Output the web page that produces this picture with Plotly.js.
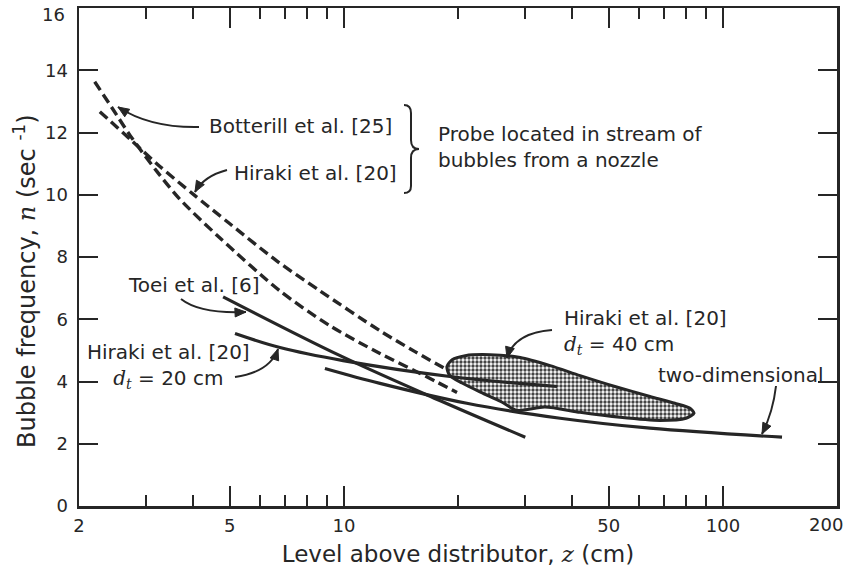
<!DOCTYPE html>
<html>
<head>
<meta charset="utf-8">
<script src="https://cdn.plot.ly/plotly-3.0.1.min.js"></script>
<style>html,body{margin:0;padding:0;background:#fff;}</style>
</head>
<body>
<div id="chart" style="width:846px;height:571px;"></div>
<script>
// ---- Data (z in cm, n in 1/s) ----
const botterillZ = [2.20, 2.46, 2.73, 3.21, 3.69, 4.71, 6.78, 9.19, 12.45, 15.88, 19.88];
const botterillN = [13.63, 12.74, 11.90, 10.75, 9.86, 8.61, 6.91, 5.79, 4.90, 4.26, 3.65];

const hirakiNozzleZ = [2.27, 2.73, 3.27, 4.00, 5.01, 6.66, 8.65, 12.45, 15.40, 18.70];
const hirakiNozzleN = [12.67, 11.78, 10.91, 10.02, 9.06, 7.87, 6.91, 5.63, 4.96, 4.38];

const toeiZ = [4.80, 9.77, 17.9, 30.1];
const toeiN = [6.72, 4.83, 3.39, 2.21];

const hiraki20Z = [5.16, 6.78, 9.95, 19.05, 36.5];
const hiraki20N = [5.54, 5.09, 4.67, 4.16, 3.84];

const twoDimZ = [8.91, 12.45, 21.1, 37.2, 64.2, 143.2];
const twoDimN = [4.42, 3.94, 3.30, 2.82, 2.50, 2.21];

const hiraki40Z = [18.7, 19.3, 20.9, 24.3, 29.2, 35.0, 42.0, 51.9, 64.2, 74.7, 81.9, 83.9, 79.9, 68.2, 53.5, 42.0, 33.9, 28.6, 26.0, 23.0, 20.5, 19.0, 18.7];
const hiraki40N = [4.48, 4.70, 4.83, 4.86, 4.77, 4.51, 4.19, 3.84, 3.52, 3.30, 3.14, 2.98, 2.82, 2.75, 2.85, 3.01, 3.18, 3.07, 3.35, 3.65, 3.95, 4.20, 4.48];

const xTickVals = [2, 5, 10, 50, 100, 200];
const xTickText = ['2', '5', '10', '50', '100', '200'];
const xMinorVals = [3, 4, 6, 7, 8, 9, 20, 30, 40, 60, 70, 80, 90];
const yTickVals = [0, 2, 4, 6, 8, 10, 12, 14, 16];
const yTickText = ['0', '2', '4', '6', '8', '10', '12', '14', '16'];

// ---- Styling / layout helpers ----
const INK = '#262626';
const FONT = 'DejaVu Sans, Arial, sans-serif';
const L = 79, R = 837, T = 8, B = 506;
function P(px, py) { return [(px - L) / (R - L), (B - py) / (B - T)]; }
function fmt(p) { return p[0].toFixed(5) + ',' + p[1].toFixed(5); }
function curve(a, c, b) { return 'M ' + fmt(P(a[0], a[1])) + ' Q ' + fmt(P(c[0], c[1])) + ' ' + fmt(P(b[0], b[1])); }
function head(tip, from) {
  const dx = tip[0] - from[0], dy = tip[1] - from[1];
  const d = Math.hypot(dx, dy), ux = dx / d, uy = dy / d;
  const len = 11, half = 4.5;
  const bx = tip[0] - ux * len, by = tip[1] - uy * len;
  const p1 = [bx - uy * half, by + ux * half], p2 = [bx + uy * half, by - ux * half];
  return 'M ' + fmt(P(tip[0], tip[1])) + ' L ' + fmt(P(p1[0], p1[1])) + ' L ' + fmt(P(p2[0], p2[1])) + ' Z';
}
const arrows = [
  [[199, 127], [150, 128], [118, 107]],
  [[227, 170], [204, 176], [195, 192]],
  [[181, 299], [200, 314], [246, 312]],
  [[235, 377], [270, 372], [278, 349]],
  [[552, 330], [514, 333], [507, 358]],
  [[776, 386], [773, 412], [762, 434]]
];
const shapes = [];
arrows.forEach(a => {
  shapes.push({type: 'path', xref: 'paper', yref: 'paper', path: curve(a[0], a[1], a[2]), line: {color: INK, width: 2}});
  shapes.push({type: 'path', xref: 'paper', yref: 'paper', path: head(a[2], a[1]), fillcolor: INK, line: {color: INK, width: 1}});
});
// curly brace
(function () {
  const pts = [[404, 105], [411, 105], [411, 113], [411, 140], [411, 149], [419, 149], [411, 149], [411, 158], [411, 186], [411, 193], [404, 193]];
  const q = pts.map(p => fmt(P(p[0], p[1])));
  const path = 'M ' + q[0] + ' Q ' + q[1] + ' ' + q[2] + ' L ' + q[3] + ' Q ' + q[4] + ' ' + q[5] + ' Q ' + q[6] + ' ' + q[7] + ' L ' + q[8] + ' Q ' + q[9] + ' ' + q[10];
  shapes.push({type: 'path', xref: 'paper', yref: 'paper', path: path, line: {color: INK, width: 2}});
})();

function ann(text, px, py, xanchor, align, size, angle) {
  const p = P(px, py);
  return {text: text, xref: 'paper', yref: 'paper', x: p[0], y: p[1], xanchor: xanchor || 'left', yanchor: 'middle',
    align: align || 'left', showarrow: false, textangle: angle || 0, font: {family: FONT, size: size || 20, color: INK}};
}
const ital = s => '<span style="font-family:\'DejaVu Serif\',serif;font-style:italic">' + s + '</span>';
const annotations = [
  ann('Botterill et al. [25]', 207, 126),
  ann('Hiraki et al. [20]', 232, 173),
  ann('Probe located in stream of<br>bubbles from a nozzle', 436, 147),
  ann('Toei et al. [6]', 126, 285),
  ann('Hiraki et al. [20]<br>' + ital('d<sub>t</sub>') + ' = 20 cm', 168, 366, 'center', 'center'),
  ann('Hiraki et al. [20]<br>' + ital('d<sub>t</sub>') + ' = 40 cm', 562, 332),
  ann('two-dimensional', 656, 375),
  ann('Bubble frequency, ' + ital('n') + ' (sec <sup>-1</sup>)', 25, 281, 'center', 'center', 24, -90),
  // edge tick labels placed inside the page (the reference nudges them inward)
  ann(yTickText[yTickText.length - 1], 67, 14, 'right', 'right', 18),
  ann(xTickText[xTickText.length - 1], 845, 524, 'right', 'right', 18)
];

const solid = {color: INK, width: 3.2};
const dashed = {color: INK, width: 3.4, dash: '10px,5px', shape: 'spline', smoothing: 0.8};
const traces = [
  {x: hiraki40Z, y: hiraki40N, mode: 'lines', fill: 'toself', fillcolor: '#ffffff',
   fillpattern: {shape: '.', size: 4, solidity: 0.55, fgcolor: '#444444', bgcolor: '#ffffff'},
   line: {color: INK, width: 3, shape: 'spline', smoothing: 0.7}, hoverinfo: 'skip'},
  {x: botterillZ, y: botterillN, mode: 'lines', line: dashed},
  {x: hirakiNozzleZ, y: hirakiNozzleN, mode: 'lines', line: dashed},
  {x: toeiZ, y: toeiN, mode: 'lines', line: Object.assign({shape: 'spline'}, solid)},
  {x: hiraki20Z, y: hiraki20N, mode: 'lines', line: Object.assign({shape: 'spline'}, solid)},
  {x: twoDimZ, y: twoDimN, mode: 'lines', line: Object.assign({shape: 'spline'}, solid)}
];

const axisCommon = {
  showline: true, linewidth: 2.5, linecolor: INK, mirror: 'ticks', ticks: 'inside', tickwidth: 2, tickcolor: INK,
  showgrid: false, zeroline: false, tickfont: {family: FONT, size: 18, color: INK}
};
const layout = {
  width: 846, height: 571,
  margin: {l: L, r: 846 - R, t: T, b: 571 - B, pad: 0},
  paper_bgcolor: '#ffffff', plot_bgcolor: '#ffffff',
  showlegend: false,
  xaxis: Object.assign({}, axisCommon, {
    type: 'log', range: [Math.log10(2), Math.log10(200)],
    tickmode: 'array', tickvals: xTickVals.slice(0, -1), ticktext: xTickText.slice(0, -1), ticklen: 20, ticklabelstandoff: 2,
    minor: {tickmode: 'array', tickvals: xMinorVals, ticks: 'inside', ticklen: 11, tickwidth: 2, tickcolor: INK},
    title: {text: 'Level above distributor, ' + ital('z') + ' (cm)', font: {family: FONT, size: 23, color: INK}, standoff: 11}
  }),
  yaxis: Object.assign({}, axisCommon, {
    range: [0, 16], tickmode: 'array', tickvals: yTickVals.slice(0, -1), ticktext: yTickText.slice(0, -1), ticklen: 19, ticklabelstandoff: 5
  }),
  shapes: shapes,
  annotations: annotations
};
Plotly.newPlot('chart', traces, layout, {displayModeBar: false, staticPlot: true});
</script>
</body>
</html>
